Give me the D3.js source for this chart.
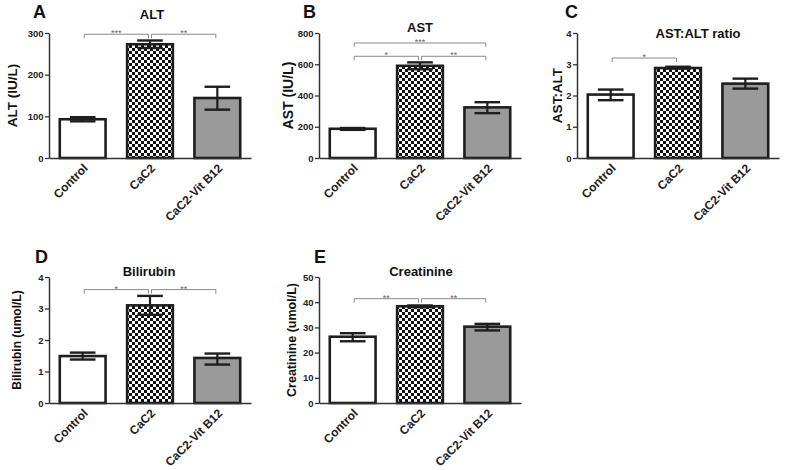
<!DOCTYPE html>
<html>
<head>
<meta charset="utf-8">
<script src="https://cdn.jsdelivr.net/npm/d3@7"></script>
<style>
  html, body { margin: 0; padding: 0; background: #fff; }
  svg { display: block; font-family: "Liberation Sans", Arial, sans-serif; }
</style>
</head>
<body>
<svg id="chart" width="787" height="470"></svg>
<script>
// ---------------- DATA ----------------
const categories = ["Control", "CaC2", "CaC2-Vit B12"];

const altMean = [93, 273, 144];
const altLow  = [88, 264, 116];
const altHigh = [98, 282, 171];
const altTicks = [0, 100, 200, 300];

const astMean = [187, 590, 324];
const astLow  = [180, 568, 287];
const astHigh = [192, 612, 357];
const astTicks = [0, 200, 400, 600, 800];

const ratioMean = [2.03, 2.88, 2.38];
const ratioLow  = [1.85, 2.86, 2.22];
const ratioHigh = [2.19, 2.92, 2.54];
const ratioTicks = [0, 1, 2, 3, 4];

const biliMean = [1.49, 3.1, 1.43];
const biliLow  = [1.38, 2.8, 1.22];
const biliHigh = [1.6, 3.4, 1.57];
const biliTicks = [0, 1, 2, 3, 4];

const creaMean = [26.3, 38.4, 30.3];
const creaLow  = [24.5, 38.0, 28.8];
const creaHigh = [27.7, 38.7, 31.4];
const creaTicks = [0, 10, 20, 30, 40, 50];

// significance brackets: [fromIndex, toIndex, level, label]
const altSig   = [[0, 1, 297, "***"], [1, 2, 297, "**"]];
const astSig   = [[0, 2, 736, "***"], [0, 1, 651, "*"], [1, 2, 651, "**"]];
const ratioSig = [[0, 1, 3.2, "*"]];
const biliSig  = [[0, 1, 3.6, "*"], [1, 2, 3.6, "**"]];
const creaSig  = [[0, 1, 41.4, "**"], [1, 2, 41.4, "**"]];

// ---------------- DRAWING ----------------
const svg = d3.select("#chart");
svg.append("rect").attr("width", 787).attr("height", 470).attr("fill", "#fff");

const defs = svg.append("defs");
const pat = defs.append("pattern").attr("id", "checker")
  .attr("patternUnits", "userSpaceOnUse").attr("width", 6).attr("height", 6);
pat.append("rect").attr("width", 6).attr("height", 6).attr("fill", "#fff");
pat.append("rect").attr("width", 3).attr("height", 3).attr("fill", "#111");
pat.append("rect").attr("x", 3).attr("y", 3).attr("width", 3).attr("height", 3).attr("fill", "#111");

const fills = ["#ffffff", "url(#checker)", "#9a9a9a"];

const panels = [
  { letter: "A", title: "ALT", ylabel: "ALT (IU/L)", mean: altMean, low: altLow, high: altHigh,
    ticks: altTicks, sig: altSig, x0: 49, x1: 251, top: 33, bottom: 158,
    letterX: 33, letterY: 18, titleX: 152, titleY: 19, ylabX: 17, ylabSize: 13.5 },
  { letter: "B", title: "AST", ylabel: "AST (IU/L)", mean: astMean, low: astLow, high: astHigh,
    ticks: astTicks, sig: astSig, x0: 319, x1: 521, top: 33, bottom: 158,
    letterX: 303, letterY: 18, titleX: 420, titleY: 32, ylabX: 293, ylabSize: 14 },
  { letter: "C", title: "AST:ALT ratio", ylabel: "AST:ALT", mean: ratioMean, low: ratioLow, high: ratioHigh,
    ticks: ratioTicks, sig: ratioSig, x0: 577, x1: 779, top: 33, bottom: 158,
    letterX: 565, letterY: 18, titleX: 698, titleY: 38, ylabX: 562, ylabSize: 13.5 },
  { letter: "D", title: "Bilirubin", ylabel: "Bilirubin (umol/L)", mean: biliMean, low: biliLow, high: biliHigh,
    ticks: biliTicks, sig: biliSig, x0: 49, x1: 251, top: 277, bottom: 403,
    letterX: 35, letterY: 263, titleX: 149, titleY: 276, ylabX: 21, ylabSize: 12 },
  { letter: "E", title: "Creatinine", ylabel: "Creatinine (umol/L)", mean: creaMean, low: creaLow, high: creaHigh,
    ticks: creaTicks, sig: creaSig, x0: 319, x1: 521, top: 277, bottom: 403,
    letterX: 314, letterY: 263, titleX: 421, titleY: 276, ylabX: 296, ylabSize: 12.5 }
];

panels.forEach(p => {
  const g = svg.append("g");
  const y = d3.scaleLinear().domain([0, d3.max(p.ticks)]).range([p.bottom, p.top]);
  const x = d3.scaleBand().domain(categories).range([p.x0, p.x1])
    .paddingInner(0.32).paddingOuter(0.16);
  const bw = x.bandwidth();

  // bars
  g.selectAll("rect.bar").data(categories).enter().append("rect")
    .attr("class", "bar")
    .attr("x", d => x(d))
    .attr("y", (d, i) => y(p.mean[i]))
    .attr("width", bw)
    .attr("height", (d, i) => y(0) - y(p.mean[i]))
    .attr("fill", (d, i) => fills[i])
    .attr("stroke", "#1e1e1e").attr("stroke-width", 2.6);

  // error bars
  const capW = bw * 0.56;
  categories.forEach((d, i) => {
    const cx = x(d) + bw / 2;
    g.append("line").attr("x1", cx).attr("x2", cx)
      .attr("y1", y(p.low[i])).attr("y2", y(p.high[i]))
      .attr("stroke", "#1e1e1e").attr("stroke-width", 2.2);
    [p.low[i], p.high[i]].forEach(v => {
      g.append("line").attr("x1", cx - capW / 2).attr("x2", cx + capW / 2)
        .attr("y1", y(v)).attr("y2", y(v))
        .attr("stroke", "#1e1e1e").attr("stroke-width", 2.4);
    });
  });

  // y axis
  const ya = g.append("g").attr("transform", `translate(${p.x0},0)`)
    .call(d3.axisLeft(y).tickValues(p.ticks).tickFormat(d => String(d))
      .tickSize(4).tickSizeOuter(0).tickPadding(1.5));
  ya.select(".domain").attr("stroke", "#333").attr("stroke-width", 1.5);
  ya.selectAll(".tick line").attr("stroke", "#333").attr("stroke-width", 1.3);
  ya.selectAll(".tick text").attr("font-size", 9.5).attr("font-weight", "bold")
    .attr("fill", "#222").attr("font-family", "Liberation Sans, Arial, sans-serif");

  // x axis
  const xa = g.append("g").attr("transform", `translate(0,${p.bottom})`)
    .call(d3.axisBottom(x).tickSize(0).tickSizeOuter(0));
  xa.select(".domain").attr("stroke", "#333").attr("stroke-width", 1.5);
  xa.selectAll(".tick text")
    .attr("font-size", 12).attr("font-weight", "bold").attr("fill", "#222")
    .attr("font-family", "Liberation Sans, Arial, sans-serif")
    .attr("x", 0).attr("y", 0).attr("dy", "0.35em")
    .attr("text-anchor", "end")
    .attr("transform", "translate(3,8) rotate(-45)");

  // significance brackets
  p.sig.forEach(s => {
    const xa1 = x(categories[s[0]]) + bw / 2 + 1.5;
    const xa2 = x(categories[s[1]]) + bw / 2 - 1.5;
    const yy = y(s[2]);
    g.append("path")
      .attr("d", `M${xa1},${yy + 4}V${yy}H${xa2}V${yy + 4}`)
      .attr("fill", "none").attr("stroke", "#8a8a8a").attr("stroke-width", 1);
    g.append("text").attr("x", (xa1 + xa2) / 2).attr("y", yy + 2)
      .attr("text-anchor", "middle").attr("font-size", 9).attr("fill", "#666")
      .text(s[3]);
  });

  // title
  g.append("text").attr("x", p.titleX).attr("y", p.titleY)
    .attr("text-anchor", "middle").attr("font-size", 13).attr("font-weight", "bold")
    .attr("fill", "#111").text(p.title);

  // panel letter
  g.append("text").attr("x", p.letterX).attr("y", p.letterY)
    .attr("font-size", 18).attr("font-weight", "bold").attr("fill", "#111").text(p.letter);

  // y label
  g.append("text")
    .attr("transform", `translate(${p.ylabX},${(p.top + p.bottom) / 2}) rotate(-90)`)
    .attr("text-anchor", "middle").attr("font-size", p.ylabSize).attr("font-weight", "bold")
    .attr("fill", "#111").text(p.ylabel);
});
</script>
</body>
</html>
